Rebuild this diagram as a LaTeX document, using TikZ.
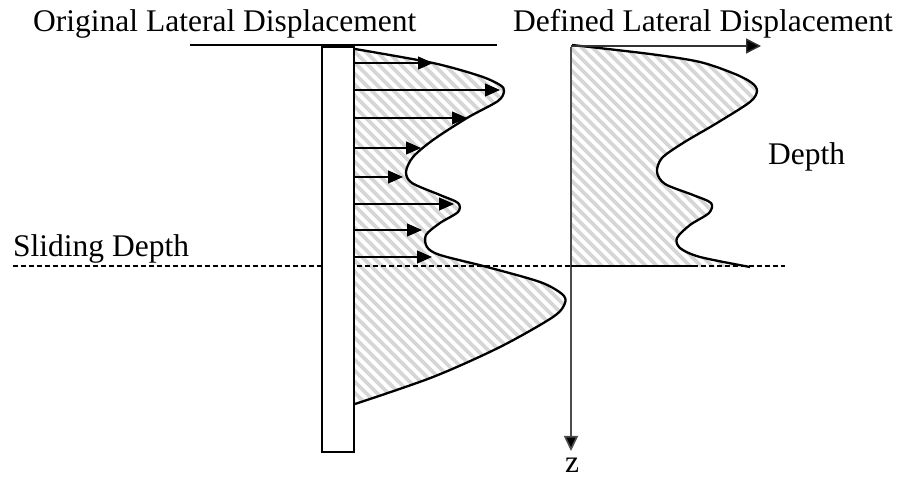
\documentclass[tikz,border=0pt]{standalone}
\usepackage{fontspec}
\setmainfont{Liberation Serif}
\usetikzlibrary{arrows.meta}
\begin{document}
\begin{tikzpicture}[x=1pt,y=-1pt,
  lbl/.style={anchor=base west, inner sep=0pt, font=\fontsize{31.5}{36}\selectfont},
  disp/.style={line width=1.2pt, -{Triangle[length=15pt,width=13pt]}},
  curv/.style={line width=2.3pt, line join=round},
  hatchline/.style={color=black!16, line width=3.8pt},
  pilebox/.style={draw, line width=2.3pt, fill=white},
  axisline/.style={draw=black!70, line width=1.6pt, -{Triangle[length=15pt,width=14pt,fill=black]}},
  sliding/.style={dash pattern=on 5pt off 3pt, line width=1.2pt}]
\useasboundingbox (0,0) rectangle (903,478);
\def\leftpts{(355,49) (433,63) (480,76) (500,85) (504,91) (498,101) (467,118) (433,140) (413,157) (406,172) (412,183) (440,195) (458,203) (458,212) (440,223) (426,235) (427,247) (440,255) (487,267) (540,282) (562,294) (565,303) (553,317) (500,347) (433,377) (355,404)}
\def\rightpts{(572,45) (650,54) (700,62) (735,74) (752,83) (757,91) (750,102) (717,123) (683,143) (662,158) (657,172) (665,184) (693,195) (711,203) (709,213) (690,225) (677,238) (680,248) (700,257) (750,267)}
% hatching left
\begin{scope}
  \clip plot[smooth, tension=0.5] coordinates {\leftpts} -- cycle;
  \foreach \c in {-500,-489,...,900} \draw[hatchline] (\c,0) -- ++(500,500);
\end{scope}
% hatching right
\begin{scope}
  \clip plot[smooth, tension=0.5] coordinates {\rightpts} -- (571,267) -- (571,45) -- cycle;
  \foreach \c in {-500,-489,...,1000} \draw[hatchline] (\c,0) -- ++(500,500);
\end{scope}
% sliding depth line
\coordinate (sl) at (13,266);
\coordinate (sr) at (785,266);
\draw[sliding] (sl) -- (sr);
% pile
\node[pilebox, minimum width=32pt, minimum height=405pt, inner sep=0pt] (pile) at (338,249.5) {};
% top ground line
\coordinate (g1) at (190,45);
\coordinate (g2) at (497,45);
\draw[line width=1.2pt] (g1) -- (g2);
% curves
\draw[curv] plot[smooth, tension=0.5] coordinates {\leftpts};
\draw[curv] plot[smooth, tension=0.5] coordinates {\rightpts};
% displacement arrows
\foreach \y/\x [count=\i] in {63/433, 90/500, 118/467, 148/421, 177/403, 204/454, 230/422, 257/432} {
  \coordinate (a\i) at (355,\y);
  \coordinate (b\i) at (\x,\y);
  \draw[disp] (a\i) -- (b\i);
}
% right axes
\coordinate (o) at (571,47);
\coordinate (xs) at (571,46);
\coordinate (xend) at (761,46);
\coordinate (zend) at (571,451);
\draw[line width=1.4pt, draw=black!80, -{Triangle[length=15pt,width=15pt,fill=black]}] (xs) -- (xend);
\draw[axisline] (o) -- (zend);
\coordinate (bl) at (571,266);
\coordinate (br) at (697,266);
\draw[line width=2.3pt] (bl) -- (br);
% labels
\node[lbl] (t1) at (33,32) {Original Lateral Displacement};
\node[lbl] (t2) at (513,32) {Defined Lateral Displacement};
\node[lbl] (t3) at (13,257) {Sliding Depth};
\node[lbl] (t4) at (768,165) {Depth};
\node[lbl] (t5) at (565,472) {z};
\end{tikzpicture}
\end{document}
